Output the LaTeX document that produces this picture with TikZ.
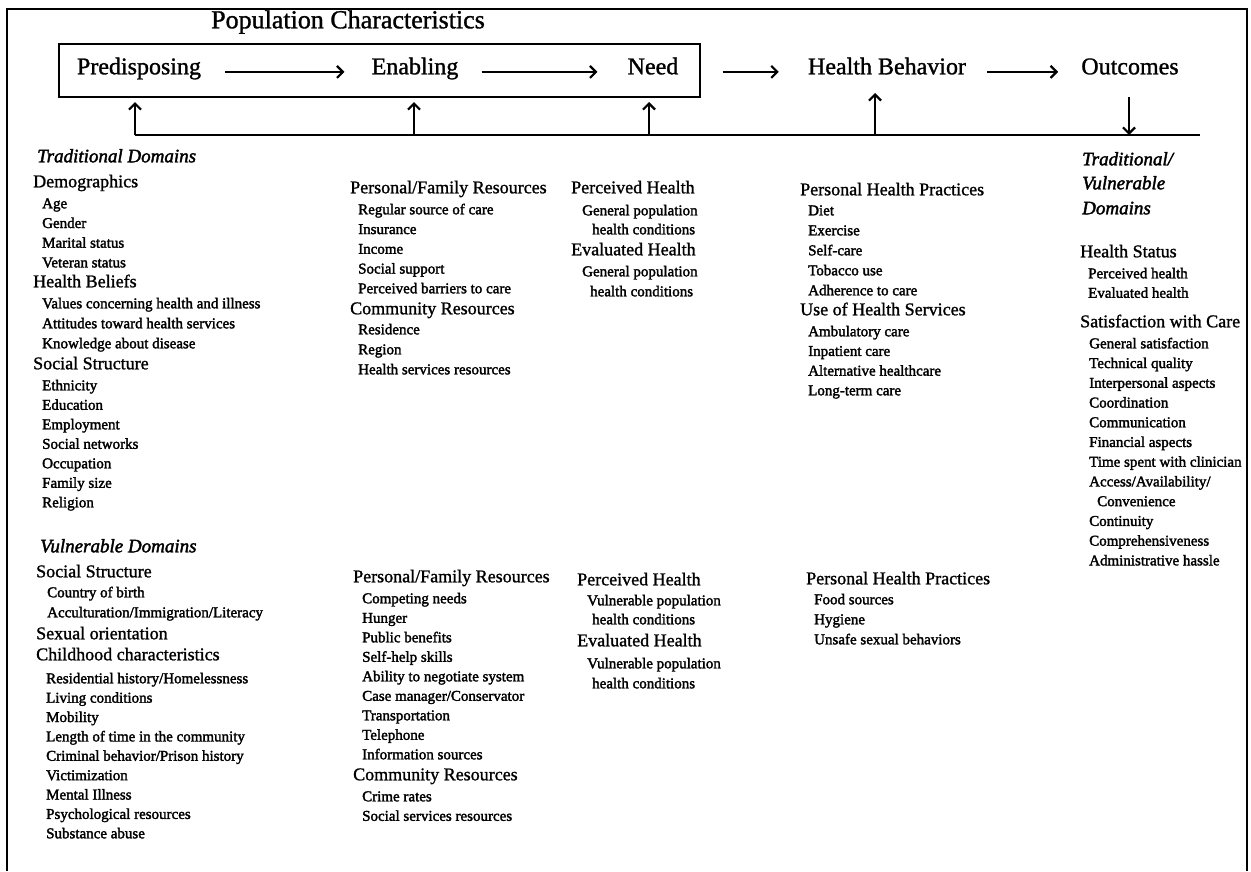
\documentclass[tikz,border=0pt]{standalone}
\usepackage{fontspec}
\setmainfont{Liberation Serif}
\newfontfamily\itemfont{Liberation Serif}[FakeBold=2]
\newfontfamily\headfont{Liberation Serif}[FakeBold=1.2]
\usetikzlibrary{arrows.meta}

\tikzset{
  hdr/.style={anchor=mid west, inner sep=0pt, font=\headfont\fontsize{18}{20}\selectfont},
  itm/.style={anchor=mid west, inner sep=0pt, font=\itemfont\fontsize{15}{18}\selectfont},
  dom/.style={anchor=mid west, inner sep=0pt, font=\itemfont\fontsize{19}{22}\selectfont\itshape},
  stage/.style={anchor=mid, inner sep=0pt, text height=0.7em, text depth=0.22em,
    font=\headfont\fontsize{24}{28}\selectfont},
  flow/.style={line width=1.5pt, -{Straight Barb[length=6pt,width=12pt,line width=2.2pt]}},
}

\begin{document}
\begin{tikzpicture}[x=1pt,y=-1pt]
\useasboundingbox (0,0) rectangle (1251,871);
% frame, open at the bottom
\draw[line width=2pt] (7,871) -- (7,9) -- (1247,9) -- (1247,871);

% model row
\node[stage, font=\headfont\fontsize{26}{30}\selectfont] (title) at (348,26) {Population Characteristics};
\draw[line width=1.4pt] (59,44) rectangle (700,97);
\node[stage] (pred) at (139,72) {Predisposing};
\node[stage] (enab) at (415,72) {Enabling};
\node[stage] (need) at (653,72) {Need};
\node[stage] (hb) at (887,72) {Health Behavior};
\node[stage] (outc) at (1130,72) {Outcomes};
\draw[flow] ([xshift=24pt]pred.east) -- ([xshift=-27pt]enab.west);
\draw[flow] ([xshift=23pt]enab.east) -- ([xshift=-30pt]need.west);
\draw[flow] ([xshift=44pt]need.east) -- ([xshift=-29pt]hb.west);
\draw[flow] ([xshift=21pt]hb.east) -- ([xshift=-23pt]outc.west);

% feedback line
\coordinate (fb1) at (135,135);
\coordinate (fb2) at (414,135);
\coordinate (fb3) at (649,135);
\coordinate (fb4) at (875,135);
\coordinate (fb5) at (1129,135);
\coordinate (fbend) at (1200,135);
\coordinate (tip1) at (135,102);
\coordinate (tip2) at (414,102);
\coordinate (tip3) at (649,102);
\coordinate (tip4) at (875,93);
\coordinate (outd) at (1129,97);
\draw[line width=1.5pt] (fb1) -- (fbend);
\draw[flow] (fb1) -- (tip1);
\draw[flow] (fb2) -- (tip2);
\draw[flow] (fb3) -- (tip3);
\draw[flow] (fb4) -- (tip4);
\draw[flow] (outd) -- (fb5);

% predisposing, traditional
\node[dom] (tdom) at (37,160) {Traditional Domains};
\node[hdr] (demo) at (33,185) {Demographics};
\foreach \t [count=\i] in {Age,Gender,Marital status,Veteran status}
  \node[itm] (demo\i) at (42,{186.3+19.7*\i}) {\t};
\node[hdr] (bel) at (33,285) {Health Beliefs};
\foreach \t [count=\i] in {Values concerning health and illness,Attitudes toward health services,Knowledge about disease}
  \node[itm] (bel\i) at (42,{286+20*\i}) {\t};
\node[hdr] (soc) at (33,367) {Social Structure};
\foreach \t [count=\i] in {Ethnicity,Education,Employment,Social networks,Occupation,Family size,Religion}
  \node[itm] (soc\i) at (42,{368.5+19.5*\i}) {\t};

% predisposing, vulnerable
\node[dom] (vdom) at (40,550) {Vulnerable Domains};
\node[hdr] (vsoc) at (36,575) {Social Structure};
\foreach \t [count=\i] in {Country of birth,Acculturation/Immigration/Literacy}
  \node[itm] (vsoc\i) at (47,{575+20*\i}) {\t};
\node[hdr] (sex) at (36,637) {Sexual orientation};
\node[hdr] (child) at (36,658) {Childhood characteristics};
\foreach \t [count=\i] in {Residential history/Homelessness,Living conditions,Mobility,Length of time in the community,Criminal behavior/Prison history,Victimization,Mental Illness,Psychological resources,Substance abuse}
  \node[itm] (child\i) at (46,{661.6+19.375*\i}) {\t};

% enabling
\node[hdr] (pfr) at (350,191) {Personal/Family Resources};
\foreach \t [count=\i] in {Regular source of care,Insurance,Income,Social support,Perceived barriers to care}
  \node[itm] (pfr\i) at (358,{192.25+19.75*\i}) {\t};
\node[hdr] (com) at (350,312) {Community Resources};
\foreach \t [count=\i] in {Residence,Region,Health services resources}
  \node[itm] (com\i) at (358,{312+20*\i}) {\t};
\node[hdr] (vpfr) at (353,580) {Personal/Family Resources};
\foreach \t [count=\i] in {Competing needs,Hunger,Public benefits,Self-help skills,Ability to negotiate system,Case manager/Conservator,Transportation,Telephone,Information sources}
  \node[itm] (vpfr\i) at (362,{581.5+19.5*\i}) {\t};
\node[hdr] (vcom) at (353,778) {Community Resources};
\foreach \t [count=\i] in {Crime rates,Social services resources}
  \node[itm] (vcom\i) at (362,{779.5+19.5*\i}) {\t};

% need
\node[hdr] (perc) at (571,191) {Perceived Health};
\node[itm] (perc1) at (582,213) {General population};
\node[itm] (perc2) at (592,232) {health conditions};
\node[hdr] (eval) at (571,253) {Evaluated Health};
\node[itm] (eval1) at (582,274) {General population};
\node[itm] (eval2) at (590,294) {health conditions};
\node[hdr] (vperc) at (577,583) {Perceived Health};
\node[itm] (vperc1) at (587,603) {Vulnerable population};
\node[itm] (vperc2) at (592,622) {health conditions};
\node[hdr] (veval) at (577,644) {Evaluated Health};
\node[itm] (veval1) at (587,666) {Vulnerable population};
\node[itm] (veval2) at (592,686) {health conditions};

% health behavior
\node[hdr] (php) at (800,193) {Personal Health Practices};
\foreach \t [count=\i] in {Diet,Exercise,Self-care,Tobacco use,Adherence to care}
  \node[itm] (php\i) at (808,{193+20*\i}) {\t};
\node[hdr] (uhs) at (800,313) {Use of Health Services};
\foreach \t [count=\i] in {Ambulatory care,Inpatient care,Alternative healthcare,Long-term care}
  \node[itm] (uhs\i) at (808,{314.3+19.67*\i}) {\t};
\node[hdr] (vphp) at (806,582) {Personal Health Practices};
\foreach \t [count=\i] in {Food sources,Hygiene,Unsafe sexual behaviors}
  \node[itm] (vphp\i) at (814,{582+20*\i}) {\t};

% outcomes
\node[dom] (odom1) at (1082,163) {Traditional/};
\node[dom] (odom2) at (1082,187) {Vulnerable};
\node[dom] (odom3) at (1082,212) {Domains};
\node[hdr] (hs) at (1080,255) {Health Status};
\foreach \t [count=\i] in {Perceived health,Evaluated health}
  \node[itm] (hs\i) at (1088,{256.5+19.5*\i}) {\t};
\node[hdr] (sat) at (1080,325) {Satisfaction with Care};
\foreach \t [count=\i] in {General satisfaction,Technical quality,Interpersonal aspects,Coordination,Communication,Financial aspects,Time spent with clinician,Access/Availability/,\hspace{8pt}Convenience,Continuity,Comprehensiveness,Administrative hassle}
  \node[itm] (sat\i) at (1089,{326.3+19.73*\i}) {\t};
\end{tikzpicture}
\end{document}
